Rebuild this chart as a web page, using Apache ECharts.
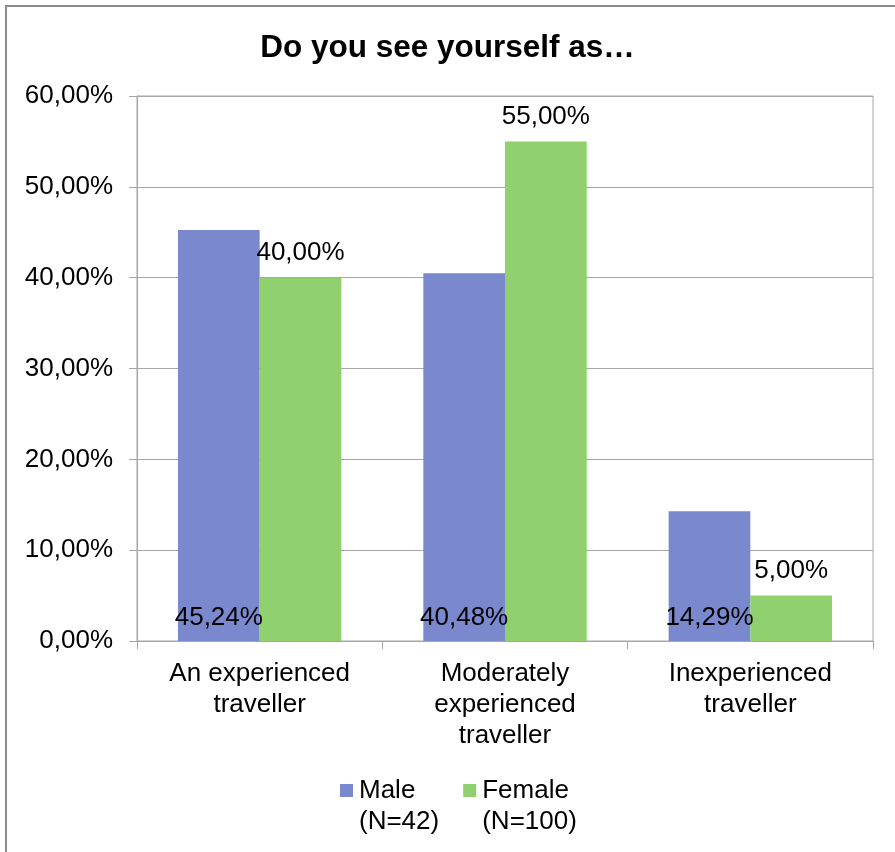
<!DOCTYPE html>
<html>
<head>
<meta charset="utf-8">
<script src="https://cdn.jsdelivr.net/npm/echarts@6/dist/echarts.min.js"></script>
<style>html,body{margin:0;padding:0;background:#fff}#c{width:895px;height:852px}</style>
</head>
<body>
<div id="c"></div>
<script>
var titleText = 'Do you see yourself as…';
var categories = ['An experienced\ntraveller', 'Moderately\nexperienced\ntraveller', 'Inexperienced\ntraveller'];
var seriesNames = ['Male\n(N=42)', 'Female\n(N=100)'];
var maleValues = [45.24, 40.48, 14.29];
var femaleValues = [40.00, 55.00, 5.00];
var yTicks = [0, 10, 20, 30, 40, 50, 60];

function pct(v) { return Number(v).toFixed(2).replace('.', ',') + '%'; }
var FONT = 'Liberation Sans, Arial, sans-serif';
var chart = echarts.init(document.getElementById('c'), null, {renderer: 'canvas'});
chart.setOption({
  animation: false,
  backgroundColor: '#fff',
  textStyle: {fontFamily: FONT, color: '#000'},
  graphic: [{
    type: 'rect', silent: true, z: -1,
    shape: {x: 6, y: 6, width: 1000, height: 1000},
    style: {fill: 'none', stroke: '#8c8c8c', lineWidth: 2}
  }],
  title: {
    text: titleText, left: 'center', top: 27,
    textStyle: {fontFamily: FONT, fontSize: 31.5, fontWeight: 'bold', color: '#000'}
  },
  legend: {
    left: 340, top: 744, padding: 0, itemGap: 24,
    itemWidth: 13, itemHeight: 13, icon: 'rect',
    data: seriesNames,
    formatter: function (name) { return ' \n' + name; },
    textStyle: {fontFamily: FONT, fontSize: 26, color: '#000', lineHeight: 31, padding: [0, 0, 0, 1]}
  },
  grid: {left: 137, right: 22, top: 96, bottom: 211, show: true, borderColor: '#a6a6a6', borderWidth: 1, containLabel: false},
  xAxis: {
    type: 'category', data: categories,
    axisLine: {lineStyle: {color: '#a6a6a6', width: 1}},
    axisTick: {show: true, length: 8, lineStyle: {color: '#a6a6a6'}},
    axisLabel: {fontFamily: FONT, fontSize: 26, color: '#000', lineHeight: 31, margin: 17, interval: 0}
  },
  yAxis: {
    type: 'value', min: yTicks[0], max: yTicks[yTicks.length - 1], interval: 10,
    axisLine: {show: true, lineStyle: {color: '#a6a6a6', width: 1}},
    axisTick: {show: true, length: 8, lineStyle: {color: '#a6a6a6'}},
    splitLine: {lineStyle: {color: '#a6a6a6', width: 1}},
    axisLabel: {fontFamily: FONT, fontSize: 26, color: '#000', margin: 24, padding: [4, 0, 0, 0], formatter: pct}
  },
  series: [{
    name: seriesNames[0], type: 'bar', data: maleValues,
    barGap: '0%', barCategoryGap: '33.4%',
    itemStyle: {color: '#7a89ce'},
    label: {show: true, position: 'insideBottom', distance: 10, formatter: function (p) { return pct(p.value); },
      fontFamily: FONT, fontSize: 26, color: '#000'}
  }, {
    name: seriesNames[1], type: 'bar', data: femaleValues,
    barGap: '0%', barCategoryGap: '33.4%',
    itemStyle: {color: '#91d06f'},
    label: {show: true, position: 'top', distance: 12, formatter: function (p) { return pct(p.value); },
      fontFamily: FONT, fontSize: 26, color: '#000'}
  }]
});
</script>
</body>
</html>
